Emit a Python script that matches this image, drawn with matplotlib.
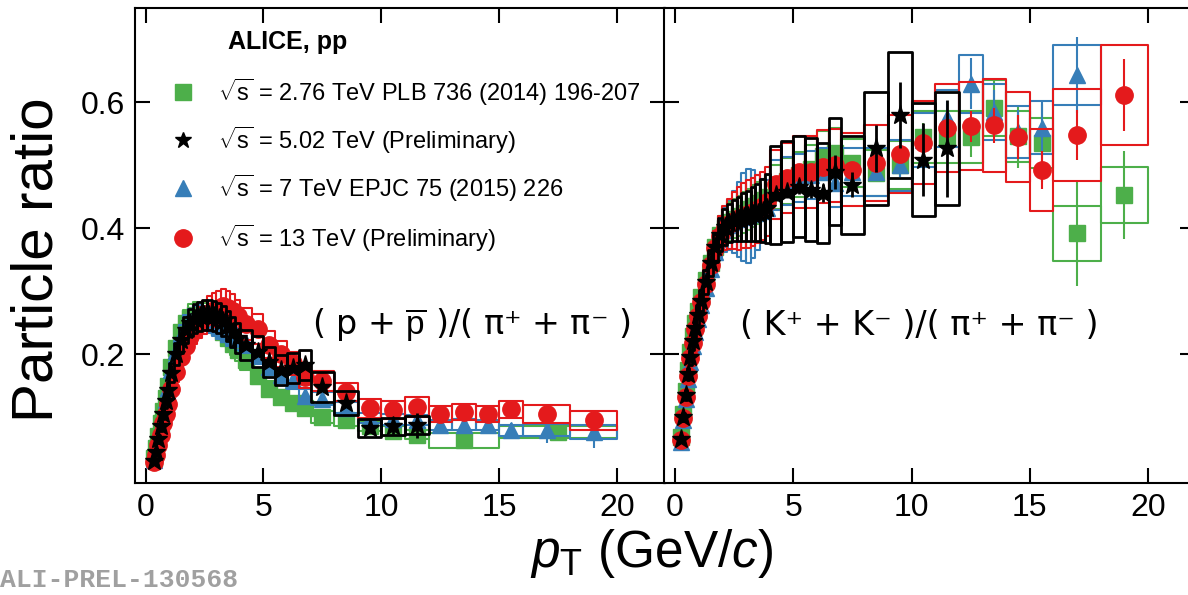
import matplotlib
matplotlib.use("Agg")
import matplotlib.pyplot as plt
import numpy as np
from matplotlib.patches import Rectangle
from matplotlib.collections import PatchCollection

plt.rcParams['font.family'] = ['Liberation Sans', 'DejaVu Sans']
plt.rcParams['mathtext.fontset'] = 'custom'
plt.rcParams['mathtext.rm'] = 'Liberation Sans'
plt.rcParams['mathtext.it'] = 'Liberation Sans:italic'
plt.rcParams['mathtext.bf'] = 'Liberation Sans:bold'

GREEN = '#4daf4a'
BLUE = '#377eb8'
RED = '#e41a1c'
BLACK = '#000000'

# pT bin edges (GeV/c)
PP_EDGES = [0.3, 0.4, 0.5, 0.6, 0.7, 0.8, 0.9, 1.0, 1.2, 1.4, 1.6, 1.8, 2.0, 2.2, 2.4, 2.6,
            2.8, 3.0, 3.2, 3.4, 3.6, 3.8, 4.0, 4.5, 5.0, 5.5, 6.0, 6.5, 7.0, 8.0, 9.0, 10.0,
            11.0, 12.0]
PP_EDGES_276 = PP_EDGES + [15.0, 20.0]
PP_EDGES_HI = PP_EDGES + [13.0, 14.0, 15.0, 16.0, 18.0, 20.0]

KP_EDGES = [0.2] + PP_EDGES
KP_EDGES_7 = KP_EDGES + [13.0, 14.0, 15.0, 16.0, 18.0]
KP_EDGES_HI = KP_EDGES + [13.0, 14.0, 15.0, 16.0, 18.0, 20.0]

# (p + pbar)/(pi+ + pi-)
PP_276 = [0.035, 0.050, 0.070, 0.090, 0.110, 0.130, 0.150,
          0.180, 0.210, 0.235, 0.250, 0.258, 0.262, 0.262, 0.260, 0.256, 0.250, 0.243, 0.235,
          0.226, 0.216, 0.206,
          0.190, 0.165, 0.145, 0.132, 0.122, 0.115,
          0.100, 0.095, 0.085, 0.078, 0.072,
          0.063, 0.076]
PP_276_STAT = [0.001, 0.001, 0.001, 0.001, 0.001, 0.001, 0.001,
               0.001, 0.001, 0.001, 0.001, 0.001, 0.001, 0.001, 0.001, 0.001, 0.001, 0.001, 0.001,
               0.001, 0.001, 0.001,
               0.001, 0.001, 0.002, 0.002, 0.002, 0.002,
               0.002, 0.003, 0.003, 0.004, 0.004,
               0.004, 0.008]
PP_276_SYS = [0.003, 0.004, 0.006, 0.007, 0.009, 0.010, 0.012,
              0.014, 0.017, 0.019, 0.020, 0.021, 0.021, 0.021, 0.021, 0.020, 0.020, 0.019, 0.019,
              0.018, 0.017, 0.017,
              0.015, 0.013, 0.012, 0.011, 0.010, 0.010,
              0.009, 0.009, 0.008, 0.008, 0.007,
              0.012, 0.009]

PP_502 = [0.030, 0.045, 0.065, 0.085, 0.105, 0.125, 0.143,
          0.170, 0.200, 0.222, 0.238, 0.250, 0.256, 0.260, 0.262, 0.262, 0.260, 0.257, 0.252,
          0.245, 0.235, 0.225,
          0.215, 0.204, 0.188, 0.175, 0.178, 0.183,
          0.147, 0.122, 0.082, 0.085, 0.087]
PP_502_STAT = [0.001, 0.001, 0.001, 0.001, 0.001, 0.001, 0.001,
               0.001, 0.001, 0.001, 0.001, 0.001, 0.001, 0.001, 0.001, 0.001, 0.001, 0.001, 0.001,
               0.001, 0.001, 0.001,
               0.003, 0.003, 0.003, 0.004, 0.004, 0.005,
               0.004, 0.006, 0.008, 0.012, 0.020]
PP_502_SYS = [0.003, 0.004, 0.006, 0.008, 0.009, 0.011, 0.013,
              0.015, 0.018, 0.020, 0.021, 0.022, 0.023, 0.023, 0.024, 0.024, 0.024, 0.024, 0.024,
              0.024, 0.024, 0.024,
              0.024, 0.024, 0.024, 0.024, 0.024, 0.024,
              0.024, 0.019, 0.014, 0.014, 0.014]

PP_7 = [0.032, 0.048, 0.067, 0.087, 0.107, 0.127, 0.146,
        0.174, 0.205, 0.228, 0.243, 0.252, 0.256, 0.257, 0.256, 0.253, 0.249, 0.244, 0.238,
        0.232, 0.228, 0.224,
        0.218, 0.200, 0.180, 0.167, 0.158, 0.134,
        0.129, 0.115, 0.098, 0.096, 0.095,
        0.087, 0.088, 0.087, 0.079, 0.079, 0.076]
PP_7_STAT = [0.001, 0.001, 0.001, 0.001, 0.001, 0.001, 0.001,
             0.001, 0.001, 0.001, 0.001, 0.001, 0.001, 0.001, 0.001, 0.001, 0.001, 0.001, 0.001,
             0.001, 0.001, 0.001,
             0.001, 0.001, 0.002, 0.002, 0.002, 0.002,
             0.002, 0.003, 0.003, 0.004, 0.004,
             0.004, 0.005, 0.006, 0.012, 0.020, 0.025]
PP_7_SYS = [0.003, 0.004, 0.005, 0.007, 0.009, 0.010, 0.012,
            0.014, 0.016, 0.018, 0.019, 0.020, 0.020, 0.021, 0.020, 0.020, 0.020, 0.020, 0.019,
            0.019, 0.018, 0.018,
            0.017, 0.016, 0.014, 0.013, 0.013, 0.011,
            0.010, 0.009, 0.008, 0.008, 0.008,
            0.008, 0.008, 0.008, 0.009, 0.010, 0.011]

PP_13 = [0.028, 0.040, 0.055, 0.072, 0.090, 0.105, 0.120,
         0.145, 0.172, 0.195, 0.213, 0.228, 0.240, 0.250, 0.258, 0.265, 0.270, 0.274, 0.276,
         0.274, 0.268, 0.260,
         0.248, 0.240, 0.215, 0.200, 0.185, 0.163,
         0.157, 0.140, 0.114, 0.111, 0.116,
         0.105, 0.108, 0.105, 0.112, 0.105, 0.095]
PP_13_STAT = [0.001, 0.001, 0.001, 0.001, 0.001, 0.001, 0.001,
              0.001, 0.001, 0.001, 0.001, 0.001, 0.001, 0.001, 0.001, 0.001, 0.001, 0.001, 0.001,
              0.001, 0.001, 0.001,
              0.001, 0.001, 0.002, 0.002, 0.002, 0.002,
              0.002, 0.003, 0.003, 0.004, 0.004,
              0.004, 0.005, 0.005, 0.006, 0.007, 0.013]
PP_13_SYS = [0.003, 0.004, 0.006, 0.007, 0.009, 0.011, 0.012,
             0.015, 0.017, 0.020, 0.021, 0.023, 0.024, 0.025, 0.026, 0.027, 0.027, 0.027, 0.028,
             0.027, 0.027, 0.026,
             0.025, 0.024, 0.022, 0.020, 0.019, 0.017,
             0.016, 0.014, 0.015, 0.015, 0.016,
             0.013, 0.013, 0.013, 0.014, 0.014, 0.015]

# (K+ + K-)/(pi+ + pi-)
KP_502 = [0.065, 0.100, 0.135, 0.168, 0.195, 0.220, 0.242, 0.262,
          0.285, 0.315, 0.345, 0.370, 0.390, 0.402, 0.408, 0.412, 0.415, 0.418, 0.420, 0.422,
          0.425, 0.428, 0.432,
          0.453, 0.458, 0.466, 0.461, 0.456, 0.490,
          0.469, 0.527, 0.580, 0.509, 0.527]
KP_502_STAT = [0.001, 0.001, 0.001, 0.001, 0.001, 0.001, 0.001, 0.001,
               0.001, 0.001, 0.001, 0.001, 0.001, 0.001, 0.001, 0.001, 0.001, 0.001, 0.001, 0.001,
               0.001, 0.001, 0.001,
               0.010, 0.010, 0.012, 0.013, 0.015, 0.027,
               0.020, 0.037, 0.053, 0.058, 0.077]
KP_502_SYS = [0.004, 0.006, 0.008, 0.010, 0.012, 0.013, 0.015, 0.016,
              0.017, 0.019, 0.021, 0.023, 0.026, 0.028, 0.030, 0.033, 0.035, 0.038, 0.040, 0.043,
              0.046, 0.050, 0.055,
              0.078, 0.080, 0.080, 0.082, 0.080, 0.085,
              0.078, 0.090, 0.100, 0.090, 0.090]

KP_276 = [0.068, 0.105, 0.142, 0.175, 0.203, 0.228, 0.250, 0.268,
          0.290, 0.318, 0.345, 0.370, 0.390, 0.400, 0.410, 0.415, 0.420, 0.425, 0.430, 0.435,
          0.440, 0.445, 0.450,
          0.465, 0.475, 0.485, 0.495, 0.515, 0.520,
          0.504, 0.488, 0.500, 0.545, 0.545,
          0.545, 0.591, 0.546, 0.536, 0.392, 0.453]
KP_276_STAT = [0.001, 0.001, 0.001, 0.001, 0.001, 0.001, 0.001, 0.001,
               0.001, 0.001, 0.001, 0.001, 0.001, 0.001, 0.001, 0.001, 0.001, 0.001, 0.001, 0.001,
               0.001, 0.001, 0.001,
               0.004, 0.005, 0.006, 0.007, 0.008, 0.010,
               0.012, 0.015, 0.018, 0.022, 0.026,
               0.032, 0.045, 0.050, 0.062, 0.083, 0.070]
KP_276_SYS = [0.005, 0.008, 0.011, 0.013, 0.015, 0.017, 0.019, 0.020,
              0.022, 0.024, 0.026, 0.028, 0.029, 0.030, 0.031, 0.031, 0.032, 0.032, 0.032, 0.033,
              0.033, 0.033, 0.034,
              0.035, 0.036, 0.036, 0.037, 0.039, 0.039,
              0.038, 0.037, 0.038, 0.041, 0.041,
              0.041, 0.044, 0.041, 0.040, 0.044, 0.044]

KP_7 = [0.060, 0.095, 0.128, 0.160, 0.188, 0.213, 0.235, 0.255,
        0.278, 0.305, 0.335, 0.362, 0.383, 0.398, 0.405, 0.410, 0.414, 0.418, 0.420, 0.422,
        0.425, 0.428, 0.432,
        0.469, 0.475, 0.480, 0.485, 0.490, 0.472,
        0.490, 0.490, 0.500, 0.540, 0.575,
        0.630, 0.585, 0.553, 0.560, 0.644]
KP_7_STAT = [0.001, 0.001, 0.001, 0.001, 0.001, 0.001, 0.001, 0.001,
             0.001, 0.001, 0.001, 0.001, 0.001, 0.001, 0.001, 0.001, 0.001, 0.001, 0.001, 0.001,
             0.001, 0.001, 0.001,
             0.004, 0.004, 0.005, 0.006, 0.008, 0.010,
             0.012, 0.015, 0.018, 0.022, 0.028,
             0.040, 0.035, 0.035, 0.040, 0.060]
KP_7_SYS = [0.005, 0.007, 0.009, 0.011, 0.013, 0.015, 0.017, 0.018,
            0.020, 0.022, 0.024, 0.026, 0.030, 0.035, 0.040, 0.050, 0.060, 0.070, 0.075, 0.070,
            0.060, 0.050, 0.045,
            0.040, 0.038, 0.038, 0.038, 0.038, 0.038,
            0.038, 0.038, 0.040, 0.043, 0.045,
            0.046, 0.045, 0.042, 0.042, 0.048]

KP_13 = [0.063, 0.098, 0.132, 0.165, 0.193, 0.218, 0.240, 0.260,
         0.283, 0.312, 0.342, 0.368, 0.388, 0.400, 0.407, 0.412, 0.416, 0.420, 0.423, 0.426,
         0.430, 0.435, 0.442,
         0.470, 0.480, 0.490, 0.490, 0.498, 0.500,
         0.493, 0.504, 0.518, 0.536, 0.560,
         0.562, 0.564, 0.545, 0.493, 0.548, 0.612]
KP_13_STAT = [0.001, 0.001, 0.001, 0.001, 0.001, 0.001, 0.001, 0.001,
              0.001, 0.001, 0.001, 0.001, 0.001, 0.001, 0.001, 0.001, 0.001, 0.001, 0.001, 0.001,
              0.001, 0.001, 0.001,
              0.005, 0.005, 0.006, 0.007, 0.008, 0.010,
              0.010, 0.012, 0.015, 0.018, 0.022,
              0.025, 0.028, 0.035, 0.030, 0.040, 0.057]
KP_13_SYS = [0.004, 0.006, 0.008, 0.010, 0.012, 0.014, 0.016, 0.017,
             0.019, 0.022, 0.025, 0.028, 0.031, 0.035, 0.040, 0.045, 0.050, 0.052, 0.054, 0.054,
             0.054, 0.054, 0.055,
             0.055, 0.056, 0.057, 0.057, 0.058, 0.058,
             0.058, 0.060, 0.062, 0.066, 0.070,
             0.070, 0.074, 0.072, 0.065, 0.073, 0.080]

LEGEND_LABELS = [r'$\sqrt{\mathrm{s}}$ = 2.76 TeV PLB 736 (2014) 196-207',
                 r'$\sqrt{\mathrm{s}}$ = 5.02 TeV (Preliminary)',
                 r'$\sqrt{\mathrm{s}}$ = 7 TeV EPJC 75 (2015) 226',
                 r'$\sqrt{\mathrm{s}}$ = 13 TeV (Preliminary)']

STYLES = {
    '2.76': dict(color=GREEN, marker='s', ms=11, lw=1.5, z=2),
    '5.02': dict(color=BLACK, marker='*', ms=14, lw=2.0, z=5),
    '7': dict(color=BLUE, marker='^', ms=12, lw=1.5, z=3),
    '13': dict(color=RED, marker='o', ms=12.5, lw=1.5, z=4),
}


def draw_series(ax, edges, vals, stat, sys, style):
    edges = np.asarray(edges)
    vals = np.asarray(vals)
    sys = np.asarray(sys)
    lo, hi = edges[:-1], edges[1:]
    x = 0.5 * (lo + hi)
    rects = [Rectangle((l, v - s), h - l, 2 * s) for l, h, v, s in zip(lo, hi, vals, sys)]
    ax.add_collection(PatchCollection(rects, facecolor='none', edgecolor=style['color'],
                                      linewidth=style['lw'], zorder=style['z']))
    ax.errorbar(x, vals, yerr=stat, fmt='none', ecolor=style['color'],
                elinewidth=style['lw'], capsize=0, zorder=style['z'] + 0.1)
    ax.plot(x, vals, ls='none', marker=style['marker'], ms=style['ms'],
            color=style['color'], mec=style['color'], zorder=style['z'] + 0.2)


fig = plt.figure(figsize=(11.88, 5.95), dpi=100)
W, H = 1188.0, 595.0
ax1 = fig.add_axes([134.9 / W, 112 / H, 529.6 / W, 475.5 / H])
ax2 = fig.add_axes([664.4 / W, 112 / H, 531.0 / W, 475.5 / H])

draw_series(ax1, PP_EDGES_276, PP_276, PP_276_STAT, PP_276_SYS, STYLES['2.76'])
draw_series(ax1, PP_EDGES_HI, PP_7, PP_7_STAT, PP_7_SYS, STYLES['7'])
draw_series(ax1, PP_EDGES_HI, PP_13, PP_13_STAT, PP_13_SYS, STYLES['13'])
draw_series(ax1, PP_EDGES, PP_502, PP_502_STAT, PP_502_SYS, STYLES['5.02'])

draw_series(ax2, KP_EDGES_HI, KP_276, KP_276_STAT, KP_276_SYS, STYLES['2.76'])
draw_series(ax2, KP_EDGES_7, KP_7, KP_7_STAT, KP_7_SYS, STYLES['7'])
draw_series(ax2, KP_EDGES_HI, KP_13, KP_13_STAT, KP_13_SYS, STYLES['13'])
draw_series(ax2, KP_EDGES, KP_502, KP_502_STAT, KP_502_SYS, STYLES['5.02'])

for ax in (ax1, ax2):
    ax.set_xlim(-0.45, 22.0)
    ax.set_ylim(-0.005, 0.751)
    ax.set_xticks([0, 5, 10, 15, 20])
    ax.set_yticks([0.2, 0.4, 0.6])
    ax.tick_params(direction='in', length=11, width=1.5, top=True, right=True,
                   labelsize=23, pad=7)
    for sp in ax.spines.values():
        sp.set_linewidth(1.5)
ax2.tick_params(labelleft=False)

# panel labels
ax1.text(0.334, 0.332, '( p + ' + r'$\overline{\mathrm{p}}$' + ' )/( π⁺ + π⁻ )',
         transform=ax1.transAxes, ha='left', va='center', fontsize=24,
         family=['DejaVu Sans'])
ax2.text(0.142, 0.332, '( K⁺ + K⁻ )/( π⁺ + π⁻ )',
         transform=ax2.transAxes, ha='left', va='center', fontsize=24,
         family=['DejaVu Sans'])

# legend
ax1.text(0.176, 0.927, 'ALICE, pp', transform=ax1.transAxes, ha='left', va='center',
         fontsize=18, fontweight='bold')
leg_y = [0.822, 0.721, 0.620, 0.515]
for key, label, yy in zip(['2.76', '5.02', '7', '13'], LEGEND_LABELS, leg_y):
    st = STYLES[key]
    ax1.plot([0.091], [yy], ls='none', marker=st['marker'],
             ms=st['ms'] if key != '5.02' else 12, color=st['color'],
             transform=ax1.transAxes, clip_on=False, zorder=10)
    ax1.text(0.157, yy, label, transform=ax1.transAxes, ha='left', va='center', fontsize=17)

fig.text(38 / W, 1 - 260 / H, 'Particle ratio', rotation=90, ha='center', va='center',
         fontsize=42)
fig.text(652 / W, 1 - 553 / H, r'$p_{\mathrm{T}}$ (GeV/$c$)', ha='center', va='center',
         fontsize=37)
fig.text(0.0, 1 - 580 / H, 'ALI-PREL-130568', ha='left', va='center', fontsize=19,
         family=['Liberation Mono'], fontweight='bold', color='#a0a0a0')

fig.savefig('out.png', dpi=100)
